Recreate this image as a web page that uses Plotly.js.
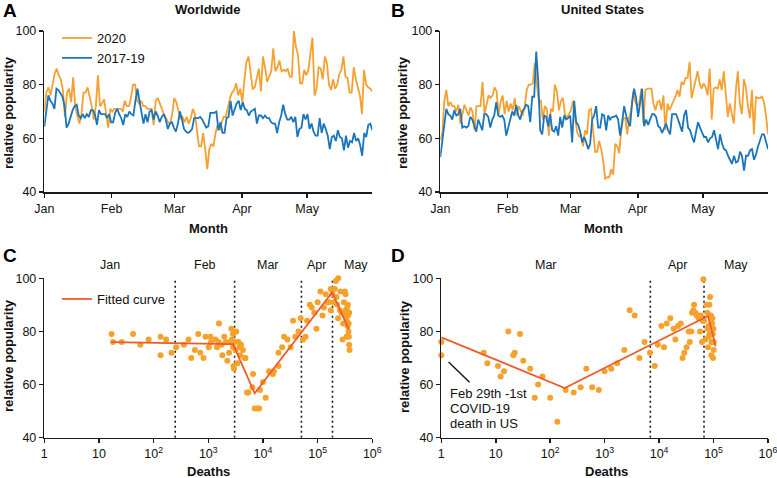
<!DOCTYPE html>
<html><head><meta charset="utf-8">
<script src="https://cdn.plot.ly/plotly-3.0.1.min.js"></script>
<style>html,body{margin:0;padding:0;background:#fff}#chart{width:777px;height:478px}</style>
</head><body><div id="chart"></div>
<script>
// ---------- DATA ----------
const monthNames = ['Jan','Feb','Mar','Apr','May'];
const monthStarts = ['2020-01-01','2020-02-01','2020-03-01','2020-04-01','2020-05-01'];
const seriesStart = '2020-01-01';
const seriesEnd = '2020-05-31';

const worldwide2020 = [70,77,79,76,80,84,86,83.5,82,78,68,77,78.5,73.5,82.7,72,68.5,65.5,69,77,77,79,75.5,72,67,72,83.5,72,73,74.5,69,64,71,70,71,71,71,71,70,74,72,72,75,80,80,74,73,74,72,72,71,71,71,65,74,75,73,70.5,69,67.5,66,65.5,69,75,73.5,70.5,67.5,68,66,68,65.5,67.5,71,69,62,57,57,62,56,48.5,56,58,57,62,65,63,66,68,68,72,75,77,78,80.5,76,78.5,73.5,82,88.5,90.5,85,78.5,79,82.5,86,77.5,90.5,86.5,81,83,85,93.5,85,86.5,89,85,85.5,85,86,83,83,100,94,91,80.5,80.5,85.5,83.5,85.5,91.5,97.5,76,78.5,86.5,86,82,90.5,88,80,78,82,78.5,80,84,85.5,90.5,83,82.5,77,77,86.5,82,78.5,76,69,85.5,80,79,78.5,77.5];
const worldwide2017_19 = [64.3,70.5,76,74,73,71,78.5,78,76.5,75.5,72,64,65.5,68.5,70.5,72,72.5,68.5,67.5,69,67.5,69,68,70.5,70.5,69,65,70.5,69,69,69,67.5,69,66,66,69.5,71,69,67.5,65,69,68,70,69,68.5,74,78.5,74,70,65.5,69,66,70,70.5,67,70,68.5,66,68,69,67,63.5,65.5,66,64,62.5,65.5,70,67,63.5,62.5,62,62.5,63.5,67.5,67.5,67.5,68,67,65.5,64,64.5,69.5,69.5,69.5,70,63,66,62,62,67.5,68,74,68.5,71,73,74,70.5,73.5,71,70.5,68.5,70,70.5,71,65.5,68.5,68.5,67.5,68.5,67.5,67.5,66,65.5,65.5,62,66,68.5,72.5,69,67,67,68,66,68,60.5,63.5,64,69,67,69,63.5,65.5,62.5,61,61,67.5,62,65.5,63.5,61,56,60.5,61,59,63,60.5,60,55.5,61,56.5,59,58.5,62,59,60,57.5,53.5,62,60.5,65,65.5,63];
const us2020 = [59.3,62,74,78,72,73.5,72,72,70,72.5,65.5,68.5,72.5,70.5,68.5,71.5,70,63,72,72,72,81,69,72.5,76,75,76,79,77.5,69,73.5,76,69,74,70,73,70.5,75,68.5,72,70.5,68.5,72,78,80,80,80.5,88,80.5,74,74,67,72,71,61,71,70,80,77.5,70.5,74,75,69,67.5,69,70.5,74,67.5,62.5,60.5,61.5,57,63,61.5,70.5,71,64,55,55,59,56,52,45,45.5,45.5,48.5,46.5,58,57,54.5,63,67.5,67.5,61.5,68,70.5,77.5,73.5,72,73,78.5,65.5,78,78.5,78.5,78.5,73,70.5,73.5,74,70.5,76,63,73,70.5,72.5,74,75.5,78,75.5,81,80,82.5,82.5,88.5,75,78,81,85,80.5,78.5,80.5,79,76,86,67,78.5,79,78.5,82,78,85,75.5,68,73,69,65.5,78,85,73,69,82,79,72,67.5,78,61.5,75.5,75,75,75.5,73.5,68.5,61.5];
const us2017_19 = [53,59,67,71,69,68.5,67,70.5,68.5,69,71,64,64.5,64,64.5,68,67,65,62.5,67,65,63,69,69,68,64,67,68.5,73.5,68.5,68,68.5,67,61,64,67,70,68.5,72.5,68.5,67,70,71,72.5,72,66,75.5,75.5,92.3,81.5,63,61.5,68.5,68,64.5,69,63,62.5,64.5,61,68,64,68.5,67,67.5,68.5,58.5,74,66,65,62.5,58.5,60.5,58.5,56,58,67,68.5,72,64,64,69,68.5,63,68.5,67,68,68,68.5,67,61,66,72,68.5,66,64.5,73.5,78.5,75,68,73,78.5,64.5,67,65,67,69,69,68,64.5,64,62,64,65.5,63,61.5,69,69,69,67,65,62.5,68.5,70.5,64,63,60.5,58.5,62.5,66,64,62,60.5,60.5,58.5,60,60.5,63,59,56,61.5,58,56,55.5,53.5,52,50.5,53.5,51,51.5,55,53.5,48,53.5,53.5,55.5,56,52,54,57,59,61.5,61.5,59,56];

// Panel C: worldwide cumulative deaths vs popularity
const worldDeaths = [17,18,26,42,57,81,134,134,169,213,258,357,434,487,569,656,714,818,890,1020,1090,1120,1350,1440,1540,1570,1740,1810,1960,2100,2230,2400,2520,2640,2700,2830,2830,2900,2950,3000,3160,3240,3390,3550,3720,3830,3980,4300,4600,4800,5100,5400,6600,6400,7060,7800,8500,8800,10000,11200,12900,15200,15800,19200,19200,22400,24300,28000,32000,35500,39000,44700,49000,54000,60000,64000,72000,78000,87000,95000,100000,112700,122700,129700,141000,151400,162300,174200,174200,187000,197800,206400,215400,237400,221400,227600,237000,254800,261800,273400,285300,293400,302000,314900,314900,323800,328300,337600,337600,347300,352200,362200,367300,372400,377600,377600,382900,370000,357200];
const worldPop = [79,76,76,79,75,77,78,71,77,72,74,75,77,70,73,79,72,70,78,74,78,76,77,74,76,83,75,71,78,76,69,72,76,81,77,79,74,67,66,76,73,80,68,76,74,71,75,73,70,70,57,57,64,59,51,51,51,58,61,55,65,64,65,67,72,74,78,77,74,84,78,80,85,77,78,84,90,89,87,81,91,95,86,89,94,91,91,96,88,94,91,96,99,100,93,90,85,88,95,87,77,83,91,95,86,94,88,84,78,89,82,86,80,78,87,75,73,83,90];
const worldFitDeaths = [17,2830,7060,184000,373000];
const worldFitPop = [76,75.2,56.7,94.7,80.8];
const worldMonthBoundaryDeaths = [248,3030,50500,187000];
const worldMonthLabelDeaths = [15.7,887,12400,96600,504000];

// Panel D: US cumulative deaths vs popularity
const usDeaths = [1,1,6,7,11,12.3,14.2,17,21,22.3,27.9,32,43,52,60,72,100,135,192,270,362,460,590,780,1000,1320,1700,2300,2880,3560,4350,5400,6800,8300,9500,11000,12300,13800,16100,18500,19900,22300,25000,27000,29000,32000,35000,36500,39000,40300,42600,43800,46400,49100,51900,53400,56500,58100,61500,63200,65000,66900,70800,73900,77100,79300,81500,83800,85100,86300,88800,91300,91300,93900,95200,96600,97900,100700,100700,99300,81500,77100];
const usPop = [76,71,72,68,67,63,65,80,71,72,79,69,66,55,60,63,55,46,58,57,59,66,59,58,65,66,68,73,88,86,70,76,72,67,75,82,74,83,85,81,77,82,83,70,72,74,80,76,80,87,88,90,87,86,86,85,80,86,76,84,99.6,84,77,90,87,74,82,90,79,93,86,76,71,83,85,79,70,73,76,81,78,81];
const usFitDeaths = [1,185,79000,109000];
const usFitPop = [77.8,58.7,85.8,74.4];
const usMonthBoundaryDeaths = [6900,66800];
const usMonthLabelDeaths = [83.7,21700,259000];
const usMonthNames = ['Mar','Apr','May'];
const pointerDeaths = [1.36,3.3];
const pointerPop = [68.5,60.9];

const yTicks = [40,60,80,100];
const decadeTicks = [1,10,100,1000,10000,100000,1000000];
const decadeLabels = ['1','10','10<sup>2</sup>','10<sup>3</sup>','10<sup>4</sup>','10<sup>5</sup>','10<sup>6</sup>'];

// ---------- STYLE ----------
const W = 777, H = 478;
const FONT = 'Liberation Sans, Arial, sans-serif';
const ORANGE = '#F5A030', BLUE = '#1B75BB', DOT = '#F7A12D', FIT = '#EE5A2A', INK = '#1a1a1a';
const px = x => x / W, py = y => 1 - y / H;

function spanDates(n) {
  const s = Date.parse(seriesStart + 'T00:00:00Z'), e = Date.parse(seriesEnd + 'T00:00:00Z');
  const out = [];
  for (let i = 0; i < n; i++) out.push(s + (e - s) * i / (n - 1));
  return out;
}
function vlines(vals) {
  const x = [], y = [];
  vals.forEach(v => { x.push(v, v, null); y.push(40, 100, null); });
  return {x, y};
}

const axisBase = {
  showline: true, linecolor: INK, linewidth: 1.5, ticks: 'outside', ticklen: 4, tickwidth: 1.5,
  tickcolor: INK, showgrid: false, zeroline: false, tickfont: {size: 12.5, color: '#111'}, fixedrange: true,
  ticklabeloverflow: 'allow'
};
const yAx = (dom, anchor) => Object.assign({}, axisBase, {domain: dom, anchor: anchor, range: [40, 100], tickmode: 'array', tickvals: yTicks});
const dateAx = (dom, anchor) => Object.assign({}, axisBase, {domain: dom, anchor: anchor, type: 'date',
  range: [Date.parse(seriesStart + 'T00:00:00Z'), Date.parse(seriesEnd + 'T00:00:00Z')],
  tickmode: 'array', tickvals: monthStarts.map(d => Date.parse(d + 'T00:00:00Z')), ticktext: monthNames});
const logAx = (dom, anchor) => Object.assign({}, axisBase, {domain: dom, anchor: anchor, type: 'log', range: [0, 6],
  tickmode: 'array', tickvals: decadeTicks, ticktext: decadeLabels});

const domTopY = [py(192), py(31)], domBotY = [py(437.7), py(278.3)];
const domLeftX = [px(44.3), px(372.3)], domRightX = [px(440.3), px(768)], domRightX2 = [px(441.3), px(768)];

const wv = vlines(worldMonthBoundaryDeaths), uv = vlines(usMonthBoundaryDeaths);
const lineW = 1.8;

const traces = [
  {x: spanDates(worldwide2020.length), y: worldwide2020, xaxis: 'x', yaxis: 'y', type: 'scatter', mode: 'lines',
   name: '2020', line: {color: ORANGE, width: lineW}, legend: 'legend'},
  {x: spanDates(worldwide2017_19.length), y: worldwide2017_19, xaxis: 'x', yaxis: 'y', type: 'scatter', mode: 'lines',
   name: '2017-19', line: {color: BLUE, width: lineW}, legend: 'legend'},
  {x: spanDates(us2020.length), y: us2020, xaxis: 'x2', yaxis: 'y2', type: 'scatter', mode: 'lines',
   name: '2020 US', line: {color: ORANGE, width: lineW}, showlegend: false},
  {x: spanDates(us2017_19.length), y: us2017_19, xaxis: 'x2', yaxis: 'y2', type: 'scatter', mode: 'lines',
   name: '2017-19 US', line: {color: BLUE, width: lineW}, showlegend: false},
  {x: wv.x, y: wv.y, xaxis: 'x3', yaxis: 'y3', type: 'scatter', mode: 'lines', connectgaps: false,
   line: {color: INK, width: 1.6, dash: '2px,3px'}, showlegend: false, hoverinfo: 'skip'},
  {x: worldDeaths, y: worldPop, xaxis: 'x3', yaxis: 'y3', type: 'scatter', mode: 'markers',
   marker: {color: DOT, size: 6}, showlegend: false, cliponaxis: false},
  {x: worldFitDeaths, y: worldFitPop, xaxis: 'x3', yaxis: 'y3', type: 'scatter', mode: 'lines',
   name: 'Fitted curve', line: {color: FIT, width: 1.8}, legend: 'legend2'},
  {x: uv.x, y: uv.y, xaxis: 'x4', yaxis: 'y4', type: 'scatter', mode: 'lines', connectgaps: false,
   line: {color: INK, width: 1.6, dash: '2px,3px'}, showlegend: false, hoverinfo: 'skip'},
  {x: usDeaths, y: usPop, xaxis: 'x4', yaxis: 'y4', type: 'scatter', mode: 'markers',
   marker: {color: DOT, size: 6}, showlegend: false, cliponaxis: false},
  {x: usFitDeaths, y: usFitPop, xaxis: 'x4', yaxis: 'y4', type: 'scatter', mode: 'lines',
   name: 'Fitted curve US', line: {color: FIT, width: 1.8}, showlegend: false},
  {x: pointerDeaths, y: pointerPop, xaxis: 'x4', yaxis: 'y4', type: 'scatter', mode: 'lines',
   line: {color: INK, width: 1.5}, showlegend: false, hoverinfo: 'skip'}
];

const txt = (text, x, y, opts) => Object.assign({text: text, x: x, y: y, xref: 'paper', yref: 'paper',
  showarrow: false, xanchor: 'center', yanchor: 'middle', font: {size: 13, color: '#111'}}, opts || {});

const annotations = [
  txt('<b>A</b>', px(1), py(10), {xanchor: 'left', font: {size: 19, color: '#000'}}),
  txt('<b>B</b>', px(389), py(10), {xanchor: 'left', font: {size: 19, color: '#000'}}),
  txt('<b>C</b>', px(1), py(255), {xanchor: 'left', font: {size: 19, color: '#000'}}),
  txt('<b>D</b>', px(389), py(256), {xanchor: 'left', font: {size: 19, color: '#000'}}),
  txt('<b>Worldwide</b>', px(207.5), py(9)),
  txt('<b>United States</b>', px(602), py(9)),
  txt('<b>Month</b>', px(208), py(228)),
  txt('<b>Month</b>', px(603), py(228)),
  txt('<b>Deaths</b>', px(208), py(471)),
  txt('<b>Deaths</b>', px(606), py(471)),
  txt('<b>relative popularity</b>', px(8), py(113), {textangle: -90}),
  txt('<b>relative popularity</b>', px(402), py(113), {textangle: -90}),
  txt('<b>relative popularity</b>', px(8), py(356), {textangle: -90}),
  txt('<b>relative popularity</b>', px(404), py(357), {textangle: -90}),
  txt('Feb 29th -1st', Math.log10(1.33), py(393.5), {xref: 'x4', xanchor: 'left'}),
  txt('COVID-19', Math.log10(1.33), py(408.5), {xref: 'x4', xanchor: 'left'}),
  txt('death in US', Math.log10(1.33), py(423.5), {xref: 'x4', xanchor: 'left'})
];
worldMonthLabelDeaths.forEach((d, i) => annotations.push(
  txt(monthNames[i], Math.log10(d), py(265), {xref: 'x3', font: {size: 12.5, color: '#111'}})));
usMonthLabelDeaths.forEach((d, i) => annotations.push(
  txt(usMonthNames[i], Math.log10(d), py(265), {xref: 'x4', font: {size: 12.5, color: '#111'}})));

const layout = {
  width: W, height: H, margin: {l: 0, r: 0, t: 0, b: 0},
  paper_bgcolor: '#fff', plot_bgcolor: 'rgba(0,0,0,0)',
  font: {family: FONT, size: 12.5, color: '#111'},
  showlegend: true,
  xaxis: dateAx(domLeftX, 'y'), yaxis: yAx(domTopY, 'x'),
  xaxis2: dateAx(domRightX, 'y2'), yaxis2: yAx(domTopY, 'x2'),
  xaxis3: logAx(domLeftX, 'y3'), yaxis3: yAx(domBotY, 'x3'),
  xaxis4: logAx(domRightX2, 'y4'), yaxis4: yAx(domBotY, 'x4'),
  legend: {x: px(57), xanchor: 'left', y: py(23), yanchor: 'top', bgcolor: 'rgba(0,0,0,0)',
    font: {size: 13, color: '#111'}, tracegroupgap: 0, itemwidth: 30, borderwidth: 0},
  legend2: {x: px(57), xanchor: 'left', y: py(284), yanchor: 'top', bgcolor: 'rgba(0,0,0,0)',
    font: {size: 13, color: '#111'}, itemwidth: 30, borderwidth: 0},
  annotations: annotations
};

Plotly.newPlot('chart', traces, layout, {staticPlot: true, displayModeBar: false});
</script></body></html>
